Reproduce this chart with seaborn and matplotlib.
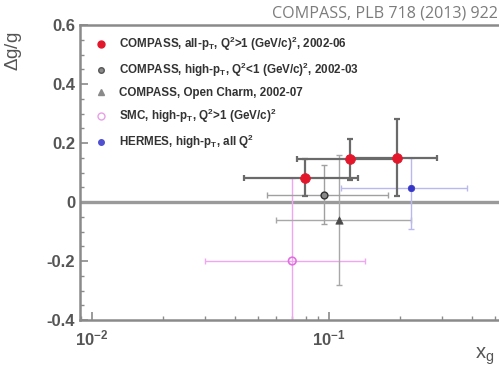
import numpy as np
import pandas as pd
import matplotlib
matplotlib.use("Agg")
import matplotlib.pyplot as plt
from matplotlib.lines import Line2D
from matplotlib.ticker import MultipleLocator, FixedLocator, FuncFormatter, LogLocator
import seaborn as sns

# COMPASS, all-pT, Q^2 > 1 (GeV/c)^2, 2002-06
cmp_all_x = [0.079, 0.123, 0.193]
cmp_all_xlo = [0.044, 0.073, 0.120]
cmp_all_xhi = [0.132, 0.200, 0.285]
cmp_all_y = [0.082, 0.145, 0.150]
cmp_all_yerr = [0.063, 0.070, 0.130]

# COMPASS, high-pT, Q^2 < 1 (GeV/c)^2, 2002-03
cmp_hq_x = [0.095]
cmp_hq_xlo = [0.055]
cmp_hq_xhi = [0.177]
cmp_hq_y = [0.024]
cmp_hq_yerr = [0.100]

# COMPASS, open charm, 2002-07
cmp_oc_x = [0.110]
cmp_oc_xlo = [0.060]
cmp_oc_xhi = [0.221]
cmp_oc_y = [-0.060]
cmp_oc_yerr = [0.220]

# SMC, high-pT, Q^2 > 1 (GeV/c)^2
smc_x = [0.070]
smc_xlo = [0.030]
smc_xhi = [0.142]
smc_y = [-0.200]
smc_yerr = [0.280]

# HERMES, high-pT, all Q^2
her_x = [0.221]
her_xlo = [0.112]
her_xhi = [0.383]
her_y = [0.049]
her_ylo = [0.140]
her_yhi = [0.100]

labels = [
    r"COMPASS, all-p$_\mathbf{T}$, Q$^\mathbf{2}$>1 (GeV/c)$^\mathbf{2}$, 2002-06",
    r"COMPASS, high-p$_\mathbf{T}$, Q$^\mathbf{2}$<1 (GeV/c)$^\mathbf{2}$, 2002-03",
    "COMPASS, Open Charm, 2002-07",
    r"SMC, high-p$_\mathbf{T}$, Q$^\mathbf{2}$>1 (GeV/c)$^\mathbf{2}$",
    r"HERMES, high-p$_\mathbf{T}$, all Q$^\mathbf{2}$",
]
y_ticks = [-0.4, -0.2, 0.0, 0.2, 0.4, 0.6]
y_tick_labels = ["-0.4", "-0.2", "0", "0.2", "0.4", "0.6"]

sns.set_theme(style="white")
plt.rcParams["font.family"] = ["Liberation Sans", "DejaVu Sans"]
plt.rcParams["mathtext.fontset"] = "custom"
plt.rcParams["mathtext.rm"] = "Liberation Sans"
plt.rcParams["mathtext.bf"] = "Liberation Sans:bold"
plt.rcParams["mathtext.it"] = "Liberation Sans:italic"

axis_grey = "#8a8a8a"
text_grey = "#555555"

fig = plt.figure(figsize=(4.99, 3.66), dpi=100)
ax = fig.add_axes([80 / 499, 1 - 320 / 366, 419 / 499, 295 / 366])

ax.axhline(0, color="#9a9a9a", lw=2.4, zorder=1)


def bars(x, xlo, xhi, y, ylo, yhi, color, lw, cap, z):
    x = np.asarray(x)
    xerr = [x - np.asarray(xlo), np.asarray(xhi) - x]
    ax.errorbar(x, y, xerr=xerr, yerr=[ylo, yhi], fmt="none", ecolor=color,
                elinewidth=lw, capsize=cap, capthick=lw, zorder=z)


bars(smc_x, smc_xlo, smc_xhi, smc_y, smc_yerr, smc_yerr, "#f2a6f2", 1.0, 2.0, 2)
bars(cmp_oc_x, cmp_oc_xlo, cmp_oc_xhi, cmp_oc_y, cmp_oc_yerr, cmp_oc_yerr, "#a8a8a8", 1.0, 2.0, 2)
bars(cmp_hq_x, cmp_hq_xlo, cmp_hq_xhi, cmp_hq_y, cmp_hq_yerr, cmp_hq_yerr, "#a0a0a0", 1.0, 2.0, 2)
bars(her_x, her_xlo, her_xhi, her_y, her_ylo, her_yhi, "#b9b9f0", 1.0, 2.0, 2)
bars(cmp_all_x, cmp_all_xlo, cmp_all_xhi, cmp_all_y, cmp_all_yerr, cmp_all_yerr, "#6a6a6a", 1.6, 2.5, 3)

# markers via seaborn
df_all = pd.DataFrame({"x": cmp_all_x, "y": cmp_all_y})
df_hq = pd.DataFrame({"x": cmp_hq_x, "y": cmp_hq_y})
df_oc = pd.DataFrame({"x": cmp_oc_x, "y": cmp_oc_y})
df_smc = pd.DataFrame({"x": smc_x, "y": smc_y})
df_her = pd.DataFrame({"x": her_x, "y": her_y})

sns.scatterplot(data=df_smc, x="x", y="y", ax=ax, marker="o", s=30,
                facecolor="none", edgecolor="#e070e0", linewidth=1.2, zorder=4)
sns.scatterplot(data=df_oc, x="x", y="y", ax=ax, marker="^", s=28,
                color="#4a4a4a", edgecolor="#4a4a4a", linewidth=0.5, zorder=4)
sns.scatterplot(data=df_hq, x="x", y="y", ax=ax, marker="o", s=24,
                color="#8a8a8a", edgecolor="#333333", linewidth=1.0, zorder=4)
sns.scatterplot(data=df_her, x="x", y="y", ax=ax, marker="o", s=22,
                color="#3535c8", edgecolor="#3535c8", linewidth=0.5, zorder=4)
sns.scatterplot(data=df_all, x="x", y="y", ax=ax, marker="o", s=50,
                color="#e3172b", edgecolor="#e3172b", linewidth=0.5, zorder=5)

ax.set_xscale("log")
ax.set_xlim(0.0089, 0.522)
ax.set_ylim(-0.4, 0.6)

# axes frame and ticks
for side in ["left", "bottom", "top"]:
    ax.spines[side].set_visible(True)
    ax.spines[side].set_color(axis_grey)
    ax.spines[side].set_linewidth(1.8)
ax.spines["right"].set_visible(False)

ax.yaxis.set_major_locator(FixedLocator(y_ticks))
ax.yaxis.set_major_formatter(FuncFormatter(lambda v, p: y_tick_labels[y_ticks.index(round(v, 1))] if round(v, 1) in y_ticks else ""))
ax.yaxis.set_minor_locator(MultipleLocator(0.05))
ax.xaxis.set_major_locator(LogLocator(base=10, numticks=5))
ax.xaxis.set_minor_locator(LogLocator(base=10, subs=np.arange(2, 10), numticks=20))

ax.tick_params(axis="both", which="both", direction="in", color=axis_grey,
               left=True, bottom=True, top=False, right=False)
ax.tick_params(axis="both", which="major", length=6, width=1.2,
               labelsize=12, labelcolor=text_grey)
ax.tick_params(axis="both", which="minor", length=3, width=1.0)
ax.tick_params(axis="x", which="major", pad=6)
for lab in ax.get_xticklabels() + ax.get_yticklabels():
    lab.set_fontweight("bold")

ax.set_xlabel(r"x$_\mathregular{g}$", fontsize=14.5, color=text_grey)
ax.xaxis.set_label_coords(0.965, -0.085)
ax.set_ylabel(r"$\Delta$g/g", fontsize=13.5, color=text_grey)
ax.yaxis.set_label_coords(-0.134, 0.91)

handles = [
    Line2D([], [], ls="none", marker="o", ms=5, color="#e3172b"),
    Line2D([], [], ls="none", marker="o", ms=4, mfc="#8a8a8a", mec="#555555"),
    Line2D([], [], ls="none", marker="^", ms=4.5, color="#8a8a8a"),
    Line2D([], [], ls="none", marker="o", ms=5, mfc="none", mec="#e8a0e8"),
    Line2D([], [], ls="none", marker="o", ms=4, color="#5050d0"),
]
leg = ax.legend(handles, labels, loc="upper left", bbox_to_anchor=(0.02, 0.99),
                frameon=False, prop={"weight": "bold", "size": 8.4},
                labelspacing=0.68, handlelength=1.0, handletextpad=1.0,
                borderaxespad=0.2)
for t in leg.get_texts():
    t.set_color("#333333")

fig.text(0.998, 0.985, "COMPASS, PLB 718 (2013) 922", ha="right", va="top",
         fontsize=11.6, color="#7c7c7c", family=["Open Sans", "DejaVu Sans"])

fig.savefig("out.png", dpi=100)
